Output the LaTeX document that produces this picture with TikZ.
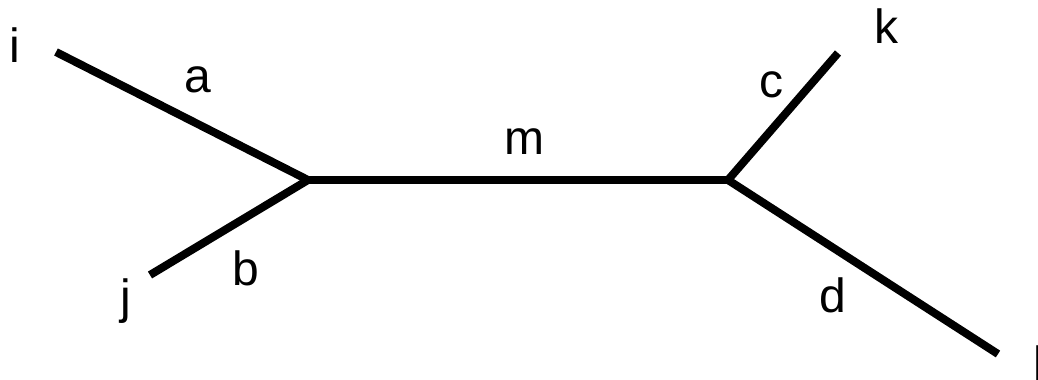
\documentclass[tikz,border=0pt]{standalone}
\usepackage{fontspec}
\setmainfont{Liberation Sans}
\usepackage{tikz}

\begin{document}
\begin{tikzpicture}[x=0.75pt, y=-0.75pt, every node/.style={font=\fontsize{36}{40}\selectfont, inner sep=0pt, anchor=base}]
\tikzset{edge/.style={line width=6pt, line cap=butt}}
\useasboundingbox (0,0) rectangle (1038,379);
% tree vertices
\coordinate (u) at (308,180);
\coordinate (v) at (728,180);
\coordinate (i) at (56,52);
\coordinate (j) at (150,275);
\coordinate (k) at (838,53);
\coordinate (l) at (998,354);
% leaf names
\node (ni) at (14.5,62) {i};
\node (nj) at (126,313) {j};
\node (nk) at (886.5,43) {k};
\node[anchor=base west] (nl) at (1033,380) {l};
% branch lengths
\node (la) at (198,92) {a};
\node (lb) at (246,285) {b};
\node (lm) at (524.5,154) {m};
\node (lc) at (771,97) {c};
\node (ld) at (832.5,312) {d};
\draw[edge] (i) -- (u); \draw[edge] (j) -- (u); \draw[edge] (u) -- (v); \draw[edge] (v) -- (k); \draw[edge] (v) -- (l);
\end{tikzpicture}
\end{document}
